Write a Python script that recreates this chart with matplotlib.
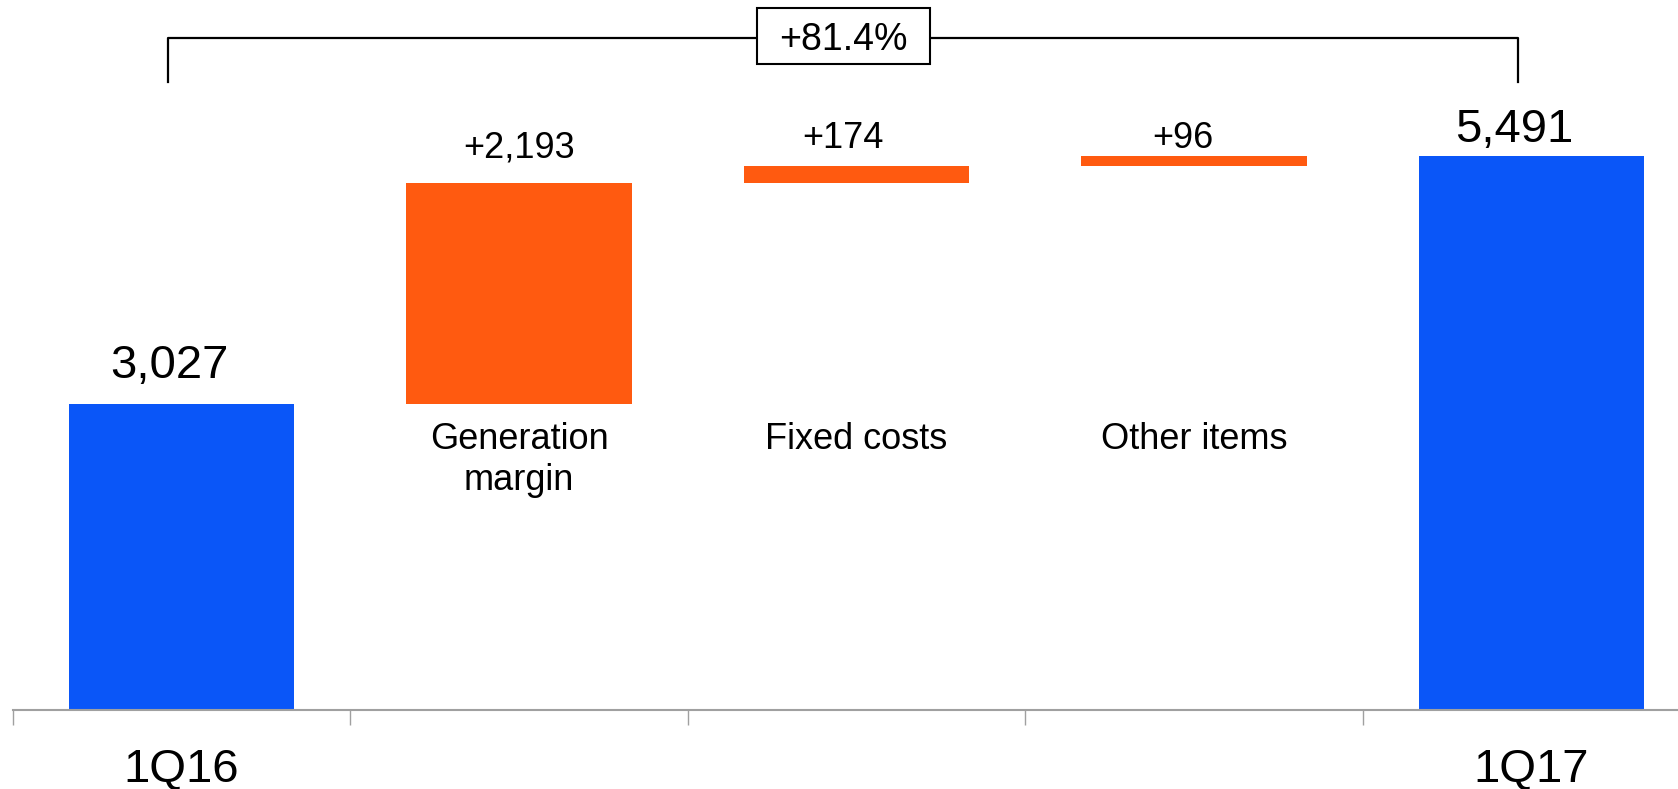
import matplotlib.pyplot as plt
from matplotlib.patches import Rectangle

plt.rcParams['font.family'] = ['Liberation Sans', 'DejaVu Sans']

# data
categories = ["1Q16", "Generation\nmargin", "Fixed costs", "Other items", "1Q17"]
start_value = 3027
deltas = [2193, 174, 96]
end_value = 5491
change_label = "+81.4%"

blue = "#0A56F8"
orange = "#FF5A10"

fig = plt.figure(figsize=(16.78, 7.89), dpi=100)
# one category is 337.5 px wide, axis starts at x=12.8 px, baseline at y=709.5 px
ax = fig.add_axes([12.8 / 1678, 79.5 / 789, 5 * 337.5 / 1678, 709.5 / 789])
ax.set_xlim(-0.5, 4.5)
ax.set_ylim(0, 7041)

# totals
ax.bar([0, 4], [start_value, end_value], width=0.667, color=blue, zorder=2)

# floating deltas
bottoms = []
level = start_value
for d in deltas:
    bottoms.append(level)
    level += d
ax.bar([1, 2, 3], deltas, bottom=bottoms, width=0.667, color=orange, zorder=2)

# value labels (offset from bar top centre, in pixels)
tops = [start_value] + [b + d for b, d in zip(bottoms, deltas)] + [end_value]
texts = [f"{start_value:,}"] + [f"+{d:,}" for d in deltas] + [f"{end_value:,}"]
x_offsets = [-12, 0, -14, -11, -17]
y_offsets = [26, 26, 18, 8, 14]
sizes = [34, 26, 26, 26, 34]
for i, (t, y, dx, dy, fs) in enumerate(zip(texts, tops, x_offsets, y_offsets, sizes)):
    ax.annotate(t, (i, y), xytext=(dx, dy), textcoords="offset pixels",
                ha="center", va="baseline", fontsize=fs)

# middle category names sit under the starting level
for i in [1, 2, 3]:
    ax.annotate(categories[i], (i, start_value), xytext=(0, -18),
                textcoords="offset pixels", ha="center", va="top", fontsize=26)

# axis styling
for s in ["top", "left", "right"]:
    ax.spines[s].set_visible(False)
ax.spines["bottom"].set_color("#a0a0a0")
ax.spines["bottom"].set_linewidth(1.5)
ax.set_yticks([])
ax.set_xticks([0, 4])
ax.set_xticklabels([categories[0], categories[4]], fontsize=34)
ax.tick_params(axis="x", which="major", length=0, pad=27.5)
ax.set_xticks([-0.5, 0.5, 1.5, 2.5, 3.5, 4.5], minor=True)
ax.tick_params(axis="x", which="minor", length=10.5, width=1, color="#a0a0a0")

# bracket with growth box
ax.plot([-0.04, -0.04, 3.96, 3.96], [6228, 6665, 6665, 6228],
        color="black", lw=1.6, clip_on=False, zorder=1)
ax.add_patch(Rectangle((1.704, 6404), 0.514, 562, facecolor="white",
                       edgecolor="black", lw=1.5, zorder=3, clip_on=False))
ax.text(1.96, 6545, change_label, ha="center", va="baseline", fontsize=27, zorder=4)

fig.savefig("out.png", dpi=100)
